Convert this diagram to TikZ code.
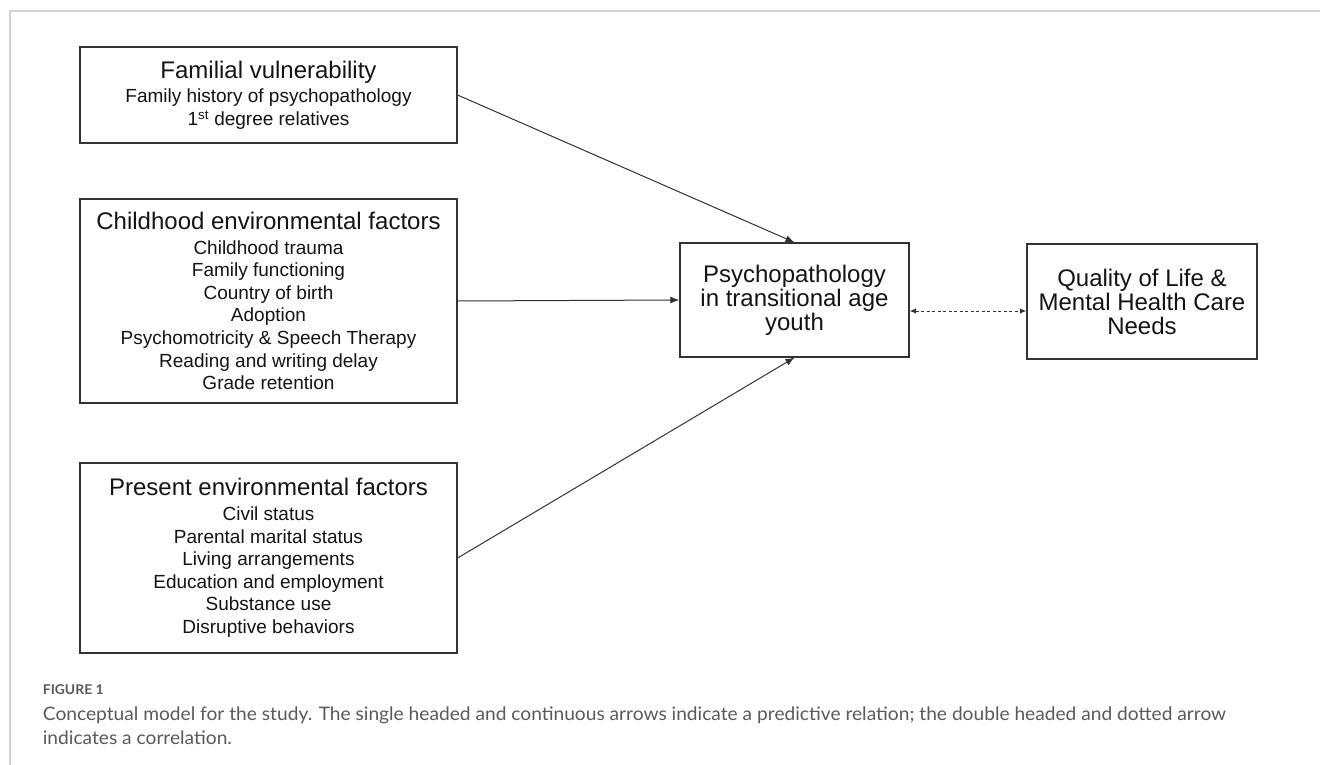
\documentclass[tikz,border=0pt]{standalone}
\usepackage{fontspec}
\setmainfont{Liberation Sans}
\newfontfamily\capfont[FakeStretch=1.03]{Lato}
\usetikzlibrary{arrows.meta}
\definecolor{boxcol}{HTML}{333333}
\definecolor{txtcol}{HTML}{141414}
\definecolor{capcol}{HTML}{5A5A5A}
\definecolor{framecol}{HTML}{D2D2D2}
\begin{document}
\begin{tikzpicture}[x=1pt,y=-1pt,
  box/.style={draw=boxcol, line width=1.2pt, rectangle, inner sep=0pt, align=center,
    text=txtcol, font=\fontsize{19}{22.6}\selectfont},
  bigbox/.style={draw=boxcol, line width=1.2pt, rectangle, inner sep=0pt, align=center,
    text=txtcol, font=\fontsize{24}{24}\selectfont},
  arr/.style={draw=boxcol, line width=1pt, -{Latex[length=9pt,width=7pt]}},
  darr/.style={draw=boxcol, line width=1pt, dash pattern=on 3pt off 2.5pt,
    {Latex[length=6.5pt,width=5.5pt]}-{Latex[length=6.5pt,width=5.5pt]}},
  captxt/.style={anchor=base west, inner sep=0pt, text=capcol, font=\capfont\fontsize{18.6}{20}\selectfont}
]
\useasboundingbox (0,0) rectangle (1320,765);
\fill[white] (0,0) rectangle (1320,765);
% frame
\draw[framecol, line width=2pt] (10,765) -- (10,11) -- (1320,11);

\node[box, minimum width=377pt, minimum height=96pt] (fam) at (268.5,95)
  {{\fontsize{24}{26}\selectfont Familial vulnerability}\\[2pt]Family history of psychopathology\\1\textsuperscript{st} degree relatives};

\node[box, minimum width=377pt, minimum height=204pt] (child) at (268.5,301)
  {{\fontsize{24}{26}\selectfont Childhood environmental factors}\\[2pt]Childhood trauma\\Family functioning\\Country of birth\\Adoption\\Psychomotricity \& Speech Therapy\\Reading and writing delay\\Grade retention};

\node[box, minimum width=377pt, minimum height=190pt] (pres) at (268.5,558)
  {{\fontsize{24}{26}\selectfont Present environmental factors}\\[2pt]Civil status\\Parental marital status\\Living arrangements\\Education and employment\\Substance use\\Disruptive behaviors};

\node[bigbox, minimum width=229pt, minimum height=114pt] (psy) at (794.5,300)
  {Psychopathology\\in transitional age\\youth};

\node[bigbox, minimum width=230pt, minimum height=115pt] (qol) at (1142,301.5)
  {Quality of Life \&\\Mental Health Care\\Needs};

\draw[arr] (fam.east) -- (psy.north);
\draw[arr] (child.east) -- (psy.west);
\draw[arr] (pres.east) -- (psy.south);
\coordinate (dl) at ([yshift=-11pt]psy.east);
\draw[darr] (dl) -- (dl -| qol.west);

\node[anchor=base west, inner sep=0pt, text=capcol, font=\capfont\bfseries\fontsize{13.5}{15}\selectfont] (figlbl) at (42.7,694) {FIGURE 1};
\node[captxt] (cap1) at (42.7,720) {Conceptual model for the study. The single headed and continuous arrows indicate a predictive relation; the double headed and dotted arrow};
\node[captxt] (cap2) at (42.7,744) {indicates a correlation.};
\end{tikzpicture}
\end{document}
